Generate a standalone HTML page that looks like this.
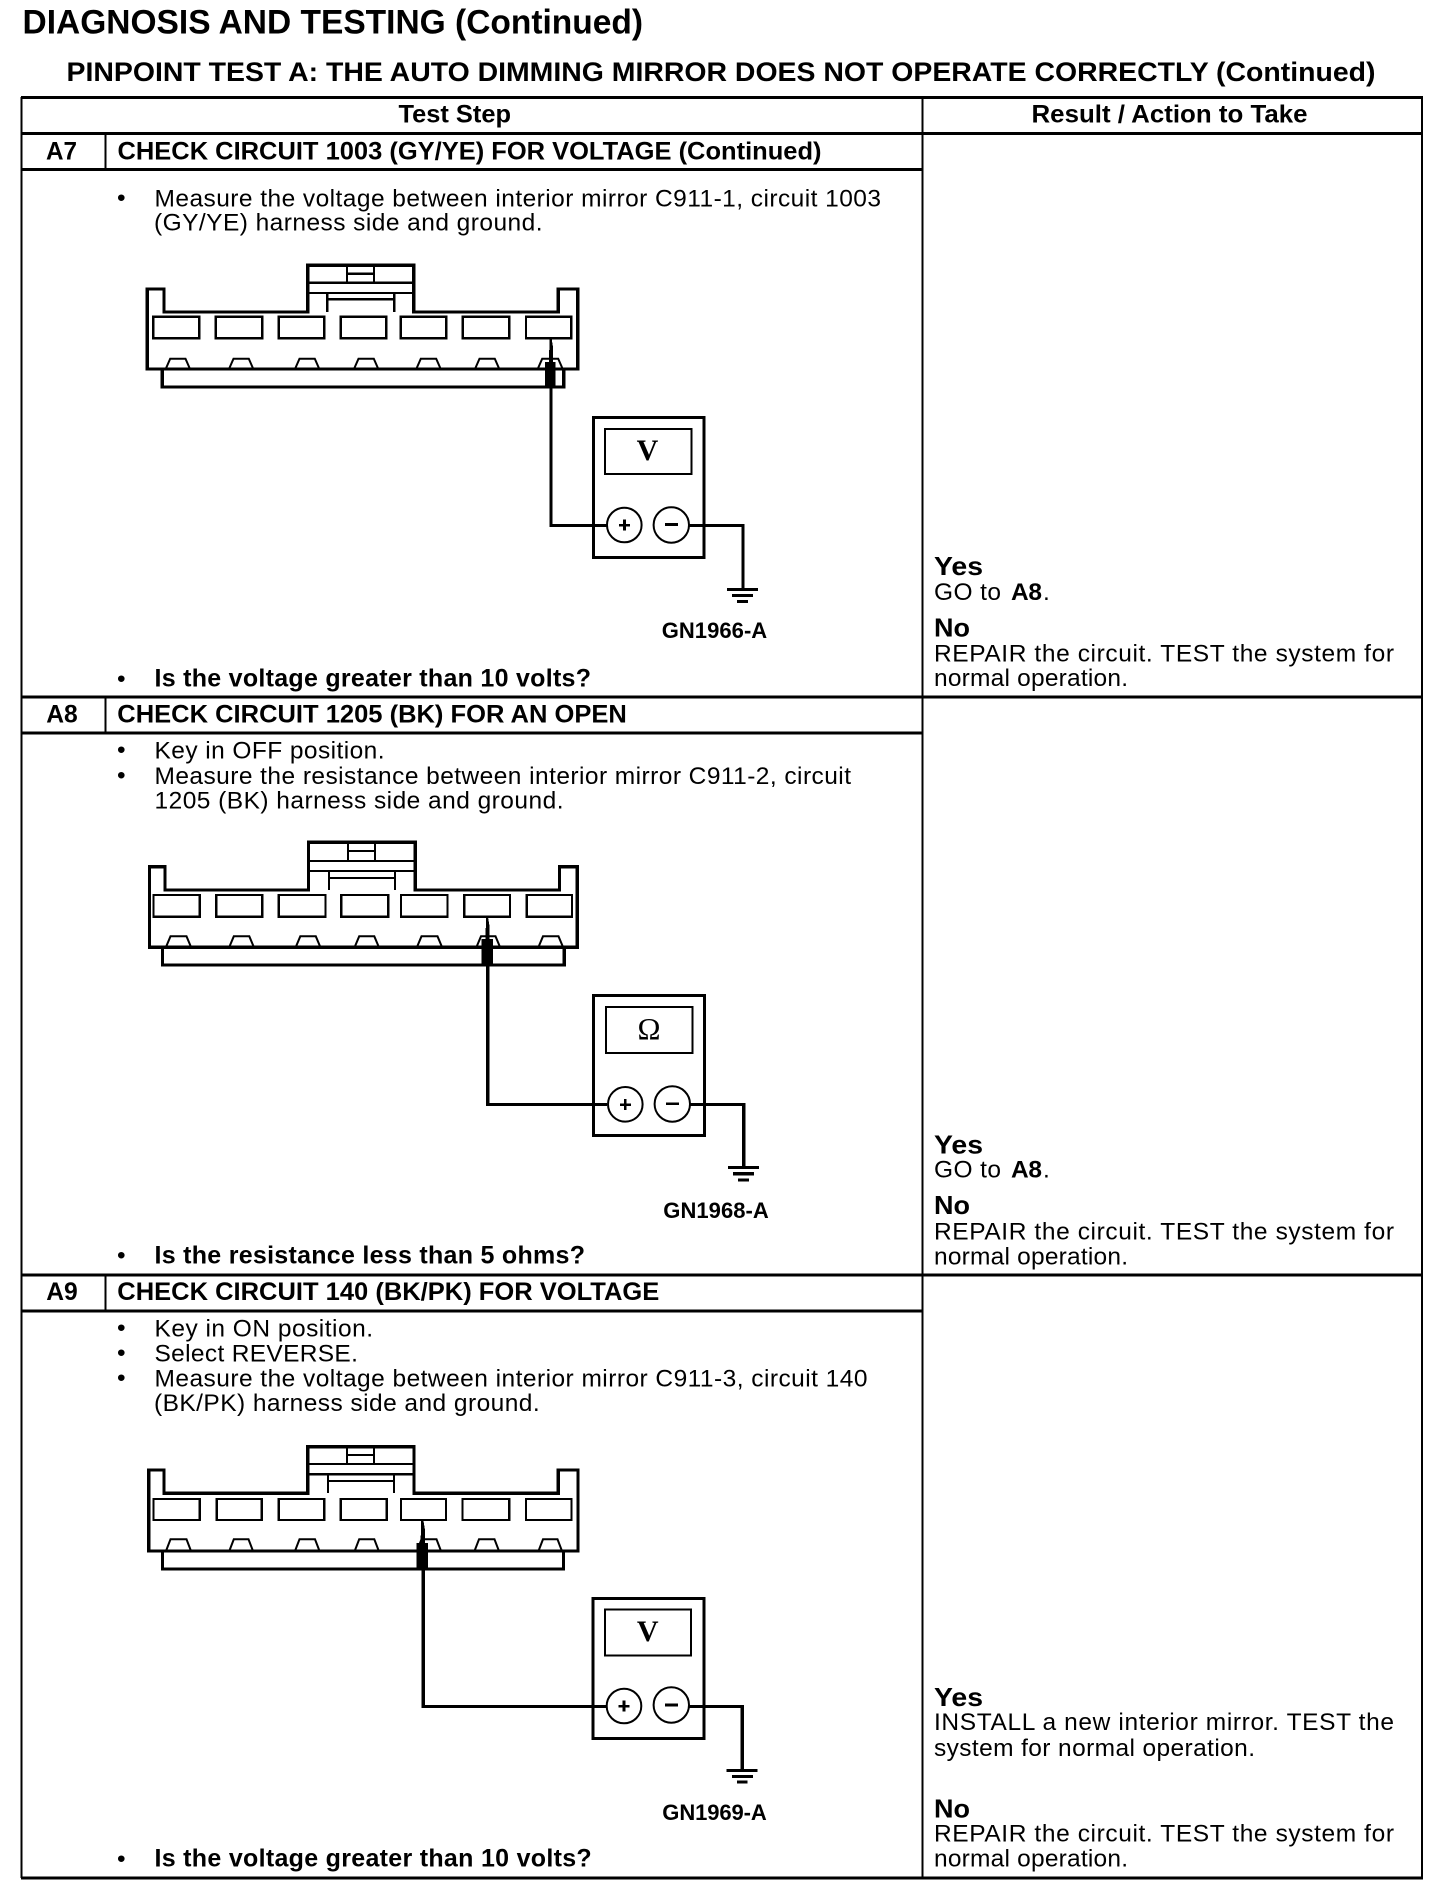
<!DOCTYPE html>
<html>
<head>
<meta charset="utf-8">
<title>Diagnosis and Testing</title>
<style>
html,body{margin:0;padding:0;background:#fff;width:1456px;height:1890px;overflow:hidden}
svg{display:block}
text{font-family:"Liberation Sans",sans-serif;fill:#000}
.b{font-size:24.5px}
.t{font-size:25px;font-weight:bold}
.q{font-size:25px;font-weight:bold}
.h{font-size:26px;font-weight:bold}
.g{font-size:22px;font-weight:bold}
.s{font-family:"Liberation Serif",serif}
.l{fill:none;stroke:#000;stroke-width:3.3;shape-rendering:crispEdges}
.m{fill:none;stroke:#000;stroke-width:2.2;shape-rendering:crispEdges}
.n{fill:none;stroke:#000;stroke-width:2}
.c{fill:#fff;stroke:#000;stroke-width:2}
.f{fill:#000;shape-rendering:crispEdges}
</style>
</head>
<body>
<svg xmlns="http://www.w3.org/2000/svg" width="1456" height="1890" viewBox="0 0 1456 1890">
<rect width="1456" height="1890" fill="#fff"/>

<text x="22.5" y="33.5" font-size="34" font-weight="bold" textLength="620.5" lengthAdjust="spacingAndGlyphs">DIAGNOSIS AND TESTING (Continued)</text>
<text x="66.5" y="81" font-size="27" font-weight="bold" textLength="1309" lengthAdjust="spacingAndGlyphs">PINPOINT TEST  A: THE AUTO DIMMING MIRROR DOES NOT OPERATE CORRECTLY (Continued)</text>

<!-- table -->
<path class="l" d="M21 97.5H1423M21 133.5H1423M21 169.5H922M21 697H1423M21 733H922M21 1275H1423M21 1311H922M21 1878H1423"/>
<path class="m" d="M21.5 97V1878M922.5 97V1878M1422 97V1878M105.5 133V169M105.5 697V733M105.5 1275V1311"/>

<text class="t" x="398.5" y="122.7" textLength="112.5" lengthAdjust="spacingAndGlyphs">Test Step</text>
<text class="t" x="1031.5" y="122.7" textLength="276" lengthAdjust="spacingAndGlyphs">Result / Action to Take</text>

<!-- A7 -->
<text class="t" x="46" y="159.3" textLength="31" lengthAdjust="spacingAndGlyphs">A7</text>
<text class="t" x="117.5" y="159.3" textLength="704" lengthAdjust="spacingAndGlyphs">CHECK CIRCUIT 1003 (GY/YE) FOR VOLTAGE (Continued)</text>
<text class="b" x="117" y="205.5">•</text>
<text class="b" x="154.5" y="206.7" textLength="726.5">Measure the voltage between interior mirror C911-1, circuit 1003</text>
<text class="b" x="154" y="230.7" textLength="388.5">(GY/YE) harness side and ground.</text>

<path class="l" d="M147.3 369V289H164V312H307.7V265.3H413.7V312H558.3V289H577.7V369Z"/>
<path class="l" d="M162.3 369V387H563.7V369"/>
<path class="m" d="M308 282.7H413M308 293H413M347 265V282.7M374 265V282.7M347 273.7H374M327.3 293V312M394.3 293V312M327.3 299.3H394.3"/>
<path class="m" d="M153.3 316.7H199.3V338.3H153.3ZM215.7 316.7H262.3V338.3H215.7ZM278.7 316.7H324.3V338.3H278.7ZM340.7 316.7H386.3V338.3H340.7ZM400.7 316.7H446.3V338.3H400.7ZM462.7 316.7H509.3V338.3H462.7ZM526 316.7H571.3V338.3H526Z"/>
<path class="n" d="M165.7 369L170.2 358.7H185.5L190 369M229 369L233.5 358.7H248.8L253.3 369M295 369L299.5 358.7H314.8L319.3 369M354 369L358.5 358.7H373.8L378.3 369M416.3 369L420.8 358.7H436.2L440.7 369M475 369L479.5 358.7H494.8L499.3 369M537.7 369L542.2 358.7H558.2L562.7 369"/>
<path class="f" d="M549.5 338H551.5L553 347V362H555.7V387.3H545V362H549Z"/>
<path class="l" d="M551 387V525.5H607"/>
<rect class="l" x="593.5" y="417.5" width="110.5" height="140"/>
<rect class="m" x="605" y="429" width="86.5" height="45"/>
<text class="s" x="647.5" y="460" font-size="30" text-anchor="middle" font-weight="bold">V</text>
<circle class="c" cx="624.3" cy="525" r="17.3"/>
<circle class="c" cx="671.3" cy="525" r="17.7"/>
<path class="f" d="M619 524H630V526.6H619ZM623.2 519.5H625.8V530.5H623.2ZM665 523.2H678V525.8H665Z"/>
<path class="l" d="M689 525.5H743V589"/>
<path class="l" d="M727 589.5H758M732 595.5H753M737 601.5H748"/>
<text class="g" x="661.7" y="638" textLength="105.5" lengthAdjust="spacing">GN1966-A</text>

<text class="b" x="117" y="686.5">•</text>
<text class="q" x="154.5" y="686.7" textLength="436.5">Is the voltage greater than 10 volts?</text>

<text class="h" x="934" y="575" textLength="49" lengthAdjust="spacingAndGlyphs">Yes</text>
<text class="b" x="934" y="600" textLength="67">GO to</text>
<text class="b" x="1011" y="600" font-weight="bold" textLength="31">A8</text>
<text class="b" x="1043" y="600">.</text>
<text class="h" x="934" y="636.7" textLength="36" lengthAdjust="spacingAndGlyphs">No</text>
<text class="b" x="934" y="661.5" textLength="460">REPAIR the circuit. TEST the system for</text>
<text class="b" x="934" y="686" textLength="194">normal operation.</text>

<!-- A8 -->
<text class="t" x="46.2" y="722.3" textLength="31.5" lengthAdjust="spacingAndGlyphs">A8</text>
<text class="t" x="117.3" y="722.3" textLength="509.5" lengthAdjust="spacingAndGlyphs">CHECK CIRCUIT 1205 (BK) FOR AN OPEN</text>
<text class="b" x="117" y="757.5">•</text>
<text class="b" x="154.5" y="758.7" textLength="230">Key in OFF position.</text>
<text class="b" x="117" y="783">•</text>
<text class="b" x="154.5" y="784" textLength="696.5">Measure the resistance between interior mirror C911-2, circuit</text>
<text class="b" x="154.5" y="808.7" textLength="409">1205 (BK) harness side and ground.</text>

<path class="l" d="M149.5 947.3V866.7H164.9V890H308.4V842.3H415.2V890H559.5V866.7H577.3V947.3Z"/>
<path class="l" d="M162.5 947.3V965H564.2V947.3"/>
<path class="m" d="M309 861H414M309 871H414M348 842V861M375 842V861M348 851H375M329 871V890M395 871V890M329 878H395"/>
<path class="m" d="M153.4 895H199.7V916.7H153.4ZM216.3 895H262.2V916.7H216.3ZM278.8 895H325.4V916.7H278.8ZM341.2 895H388.3V916.7H341.2ZM401 895H447.6V916.7H401ZM464.2 895H510V916.7H464.2ZM526.7 895H572.1V916.7H526.7Z"/>
<path class="n" d="M166 947L170.5 936.3H186.5L191 947M229.3 947L233.8 936.3H249.3L253.8 947M295.8 947L300.3 936.3H315.8L320.3 947M354.7 947L359.2 936.3H374.3L378.8 947M417 947L421.5 936.3H437.5L442 947M476.5 947L481 936.3H495.5L500 947M538.5 947L543 936.3H558.5L563 947"/>
<path class="f" d="M486 917H488L489.5 926V939H493V965H481.5V939H485.5Z"/>
<path class="l" d="M487.7 965V1104.5H607"/>
<rect class="l" x="593.5" y="995.5" width="111" height="140"/>
<rect class="m" x="606" y="1007" width="86.5" height="46"/>
<text class="s" x="649" y="1039" font-size="31" text-anchor="middle">Ω</text>
<circle class="c" cx="625.3" cy="1104.3" r="17.3"/>
<circle class="c" cx="672.3" cy="1104" r="17.7"/>
<path class="f" d="M620 1103.3H631V1105.9H620ZM624 1099H626.6V1110H624ZM666 1102.5H679V1105.1H666Z"/>
<path class="l" d="M690 1104.5H743.7V1167"/>
<path class="l" d="M728 1167.5H759M733 1173.7H754M738 1180H749"/>
<text class="g" x="663.3" y="1218" textLength="105.5" lengthAdjust="spacing">GN1968-A</text>

<text class="b" x="117" y="1263">•</text>
<text class="q" x="154.5" y="1263.3" textLength="430.5">Is the resistance less than 5 ohms?</text>

<text class="h" x="934" y="1153.3" textLength="49" lengthAdjust="spacingAndGlyphs">Yes</text>
<text class="b" x="934" y="1177.5" textLength="67">GO to</text>
<text class="b" x="1011" y="1177.5" font-weight="bold" textLength="31">A8</text>
<text class="b" x="1043" y="1177.5">.</text>
<text class="h" x="934" y="1214" textLength="36" lengthAdjust="spacingAndGlyphs">No</text>
<text class="b" x="934" y="1239.5" textLength="460">REPAIR the circuit. TEST the system for</text>
<text class="b" x="934" y="1264.5" textLength="194">normal operation.</text>

<!-- A9 -->
<text class="t" x="46.2" y="1300" textLength="31.5" lengthAdjust="spacingAndGlyphs">A9</text>
<text class="t" x="117.3" y="1300" textLength="542" lengthAdjust="spacingAndGlyphs">CHECK CIRCUIT 140 (BK/PK) FOR VOLTAGE</text>
<text class="b" x="117" y="1335.5">•</text>
<text class="b" x="154.5" y="1336.7" textLength="218.5">Key in ON position.</text>
<text class="b" x="117" y="1360.5">•</text>
<text class="b" x="154.5" y="1361.7" textLength="203.4">Select REVERSE.</text>
<text class="b" x="117" y="1385.5">•</text>
<text class="b" x="154.5" y="1386.7" textLength="713">Measure the voltage between interior mirror C911-3, circuit 140</text>
<text class="b" x="154" y="1411" textLength="385.7">(BK/PK) harness side and ground.</text>

<path class="l" d="M148.7 1551V1470H164V1493.3H307.6V1446.7H414V1493.3H558.3V1470H578V1551Z"/>
<path class="l" d="M162.5 1551V1569H563.5V1551"/>
<path class="m" d="M308 1464H413M308 1474.3H413M347 1446V1464M374 1446V1464M347 1455H374M328 1474V1493M394 1474V1493M328 1481H394"/>
<path class="m" d="M153.4 1499H199.7V1520H153.4ZM216.7 1499H261.8V1520H216.7ZM278.8 1499H324.2V1520H278.8ZM340.8 1499H386.7V1520H340.8ZM401 1499H446V1520H401ZM462.6 1499H509.3V1520H462.6ZM525.9 1499H571.4V1520H525.9Z"/>
<path class="n" d="M166 1551L170.5 1539.3H186.5L191 1551M229.3 1551L233.8 1539.3H248.5L253 1551M295 1551L299.5 1539.3H315L319.5 1551M354.7 1551L359.2 1539.3H374.3L378.8 1551M417 1551L421.5 1539.3H436.5L441 1551M474.5 1551L479 1539.3H494.5L499 1551M538.5 1551L543 1539.3H557.5L562 1551"/>
<path class="f" d="M421.3 1520H423.3L425 1530V1543H428.2V1569H416.4V1543H420.5Z"/>
<path class="l" d="M423.3 1569V1706.5H606"/>
<rect class="l" x="593" y="1598.5" width="111" height="140"/>
<rect class="m" x="605" y="1609.5" width="86" height="46"/>
<text class="s" x="647.7" y="1641" font-size="30" text-anchor="middle" font-weight="bold">V</text>
<circle class="c" cx="624" cy="1706" r="17.3"/>
<circle class="c" cx="671.3" cy="1705" r="17.7"/>
<path class="f" d="M618.5 1705H629.5V1707.6H618.5ZM622.7 1700.5H625.3V1711.5H622.7ZM665 1703.7H678V1706.3H665Z"/>
<path class="l" d="M689 1706.5H742.3V1770"/>
<path class="l" d="M726.5 1770.5H757.5M732 1776.5H753M737 1782H747.5"/>
<text class="g" x="662.3" y="1820" textLength="104.5" lengthAdjust="spacing">GN1969-A</text>

<text class="b" x="117" y="1866.5">•</text>
<text class="q" x="154.5" y="1866.7" textLength="437.2">Is the voltage greater than 10 volts?</text>

<text class="h" x="934" y="1706" textLength="49" lengthAdjust="spacingAndGlyphs">Yes</text>
<text class="b" x="934" y="1730" textLength="460">INSTALL a new interior mirror. TEST the</text>
<text class="b" x="934" y="1756" textLength="321">system for normal operation.</text>
<text class="h" x="934" y="1817.3" textLength="36" lengthAdjust="spacingAndGlyphs">No</text>
<text class="b" x="934" y="1841.5" textLength="460">REPAIR the circuit. TEST the system for</text>
<text class="b" x="934" y="1866.5" textLength="194">normal operation.</text>
</svg>
</body>
</html>
